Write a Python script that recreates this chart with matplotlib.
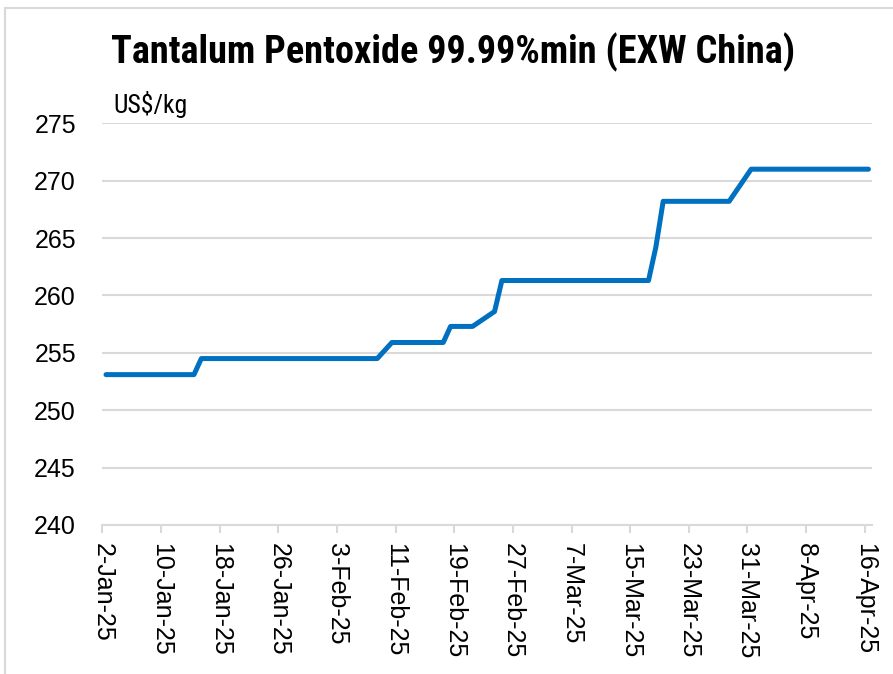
import datetime as dt

import matplotlib

matplotlib.use("Agg")
import matplotlib.pyplot as plt
import matplotlib.dates as mdates
from matplotlib.patches import Rectangle

# price change points (US$/kg)
dates = ["2025-01-02", "2025-01-14", "2025-01-15", "2025-02-08",
         "2025-02-10", "2025-02-17", "2025-02-18", "2025-02-21",
         "2025-02-24", "2025-02-25", "2025-03-17", "2025-03-18",
         "2025-03-19", "2025-03-28", "2025-03-31", "2025-04-16"]
prices = [253.1, 253.1, 254.5, 254.5,
          255.9, 255.9, 257.3, 257.3,
          258.6, 261.3, 261.3, 264.2,
          268.2, 268.2, 271.0, 271.0]
y_ticks = [240, 245, 250, 255, 260, 265, 270, 275]

BLUE = "#0070C0"
GRID = "#D9D9D9"
NARROW = ["Liberation Sans Narrow", "Roboto Condensed", "DejaVu Sans"]
ARIAL = ["Liberation Sans", "DejaVu Sans"]

# Excel date axis: points sit in the middle of each day
xs = [dt.datetime.fromisoformat(d) + dt.timedelta(hours=12) for d in dates]
start = dt.datetime(2025, 1, 2)
end = dt.datetime(2025, 4, 17)
tick_days = [start + dt.timedelta(days=8 * k) for k in range(14)]

fig = plt.figure(figsize=(8.93, 6.74), dpi=100)
fig.patch.set_facecolor("white")
fig.patches.append(Rectangle((5 / 893, -0.05), 1.1, 1.05 - 8 / 674,
                             transform=fig.transFigure, fill=False,
                             edgecolor=GRID, lw=1.5))

ax = fig.add_axes([0.1146, 0.2211, 0.862, 0.596])
ax.plot(xs, prices, color=BLUE, lw=3.6, solid_capstyle="round",
        solid_joinstyle="round", zorder=3)

ax.set_xlim(start, end)
ax.set_ylim(240, 275)
ax.set_yticks(y_ticks)
ax.set_xticks(tick_days)
ax.xaxis.set_major_formatter(mdates.DateFormatter("%-d-%b-%y"))

for s in ("top", "right", "left"):
    ax.spines[s].set_visible(False)
ax.spines["bottom"].set_color(GRID)
ax.spines["bottom"].set_linewidth(1.5)
ax.grid(axis="y", color=GRID, lw=1.5)
ax.set_axisbelow(True)

ax.tick_params(axis="y", length=0, pad=19, labelsize=18)
ax.tick_params(axis="x", length=6, width=1.5, color=GRID, pad=7,
               labelsize=18)
for lab in ax.get_yticklabels():
    lab.set_family(ARIAL)
for lab in ax.get_xticklabels():
    lab.set_family(ARIAL)
    lab.set_rotation(-90)
    lab.set_va("top")
    lab.set_ha("center")

fig.text(453 / 893, 1 - 52 / 674, "Tantalum Pentoxide 99.99%min (EXW China)",
         ha="center", va="center", fontsize=27.5, fontweight="bold",
         family=NARROW)
fig.text(113 / 893, 1 - 104 / 674, "US$/kg", ha="left", va="center",
         fontsize=18.5, family=NARROW)

fig.savefig("out.png", dpi=100, facecolor="white")
